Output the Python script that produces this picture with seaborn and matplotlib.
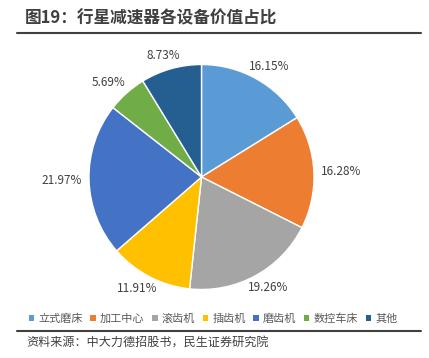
import numpy as np
import matplotlib
matplotlib.use("Agg")
import matplotlib.pyplot as plt
from matplotlib.patches import Patch
from matplotlib.lines import Line2D
import seaborn as sns

# ------------------------------
# data
# ------------------------------
categories = ["立式磨床", "加工中心", "滚齿机", "插齿机", "磨齿机", "数控车床", "其他"]
shares = [16.15, 16.28, 19.26, 11.91, 21.97, 5.69, 8.73]
colors = ["#5B9BD5", "#ED7D31", "#A5A5A5", "#FFC000", "#4472C4", "#70AD47", "#255E91"]

title = "图19：行星减速器各设备价值占比"
source = "资料来源：中大力德招股书，民生证券研究院"

# ------------------------------
# style
# ------------------------------
sns.set_theme(style="white")
plt.rcParams["font.family"] = ["Noto Sans CJK SC", "DejaVu Sans"]

W, H = 429, 358
fig = plt.figure(figsize=(W / 100, H / 100), dpi=100)

# pie axes: centre (201.5, 177) px from top, radius 112.5 px
R = 112.5
half = 1.4 * R
cx, cy = 201.5, H - 177
ax = fig.add_axes([(cx - half) / W, (cy - half) / H, 2 * half / W, 2 * half / H])

wedges, _ = ax.pie(shares, colors=colors, startangle=90, counterclock=False,
                   radius=1, wedgeprops=dict(edgecolor="white", linewidth=1.0))
ax.set_xlim(-1.4, 1.4)
ax.set_ylim(-1.4, 1.4)
ax.set_aspect("equal")
ax.axis("off")

# labels placed just outside each wedge (outside end)
r_lab = 1.067
hw, hh = 20 / R, 6 / R
for w, v in zip(wedges, shares):
    ang = np.deg2rad((w.theta1 + w.theta2) / 2)
    x = r_lab * np.cos(ang) + hw * np.cos(ang)
    y = r_lab * np.sin(ang) + hh * np.sin(ang)
    ax.text(x, y, f"{v:.2f}%", ha="center", va="center", fontsize=8.5, color="#404040")

# title and rules
fig.text(25 / W, 1 - 18 / H, title, ha="left", va="center", fontsize=12,
         fontweight="bold", color="#3F3F3F")
for yy in (33, 331):
    fig.add_artist(Line2D([17 / W, 421 / W], [1 - yy / H, 1 - yy / H],
                          color="#404040", linewidth=1.5))

# legend
handles = [Patch(facecolor=c, edgecolor="none") for c in colors]
leg = fig.legend(handles, categories, loc="center", bbox_to_anchor=(213 / W, 1 - 319 / H),
                 ncol=7, frameon=False, fontsize=8.0, handlelength=0.5, handleheight=0.5,
                 handletextpad=0.35, columnspacing=0.7, borderpad=0)
for t in leg.get_texts():
    t.set_color("#595959")

fig.text(26 / W, 1 - 343 / H, source, ha="left", va="center", fontsize=8.7, color="#404040")

fig.savefig("out.png", dpi=100)
